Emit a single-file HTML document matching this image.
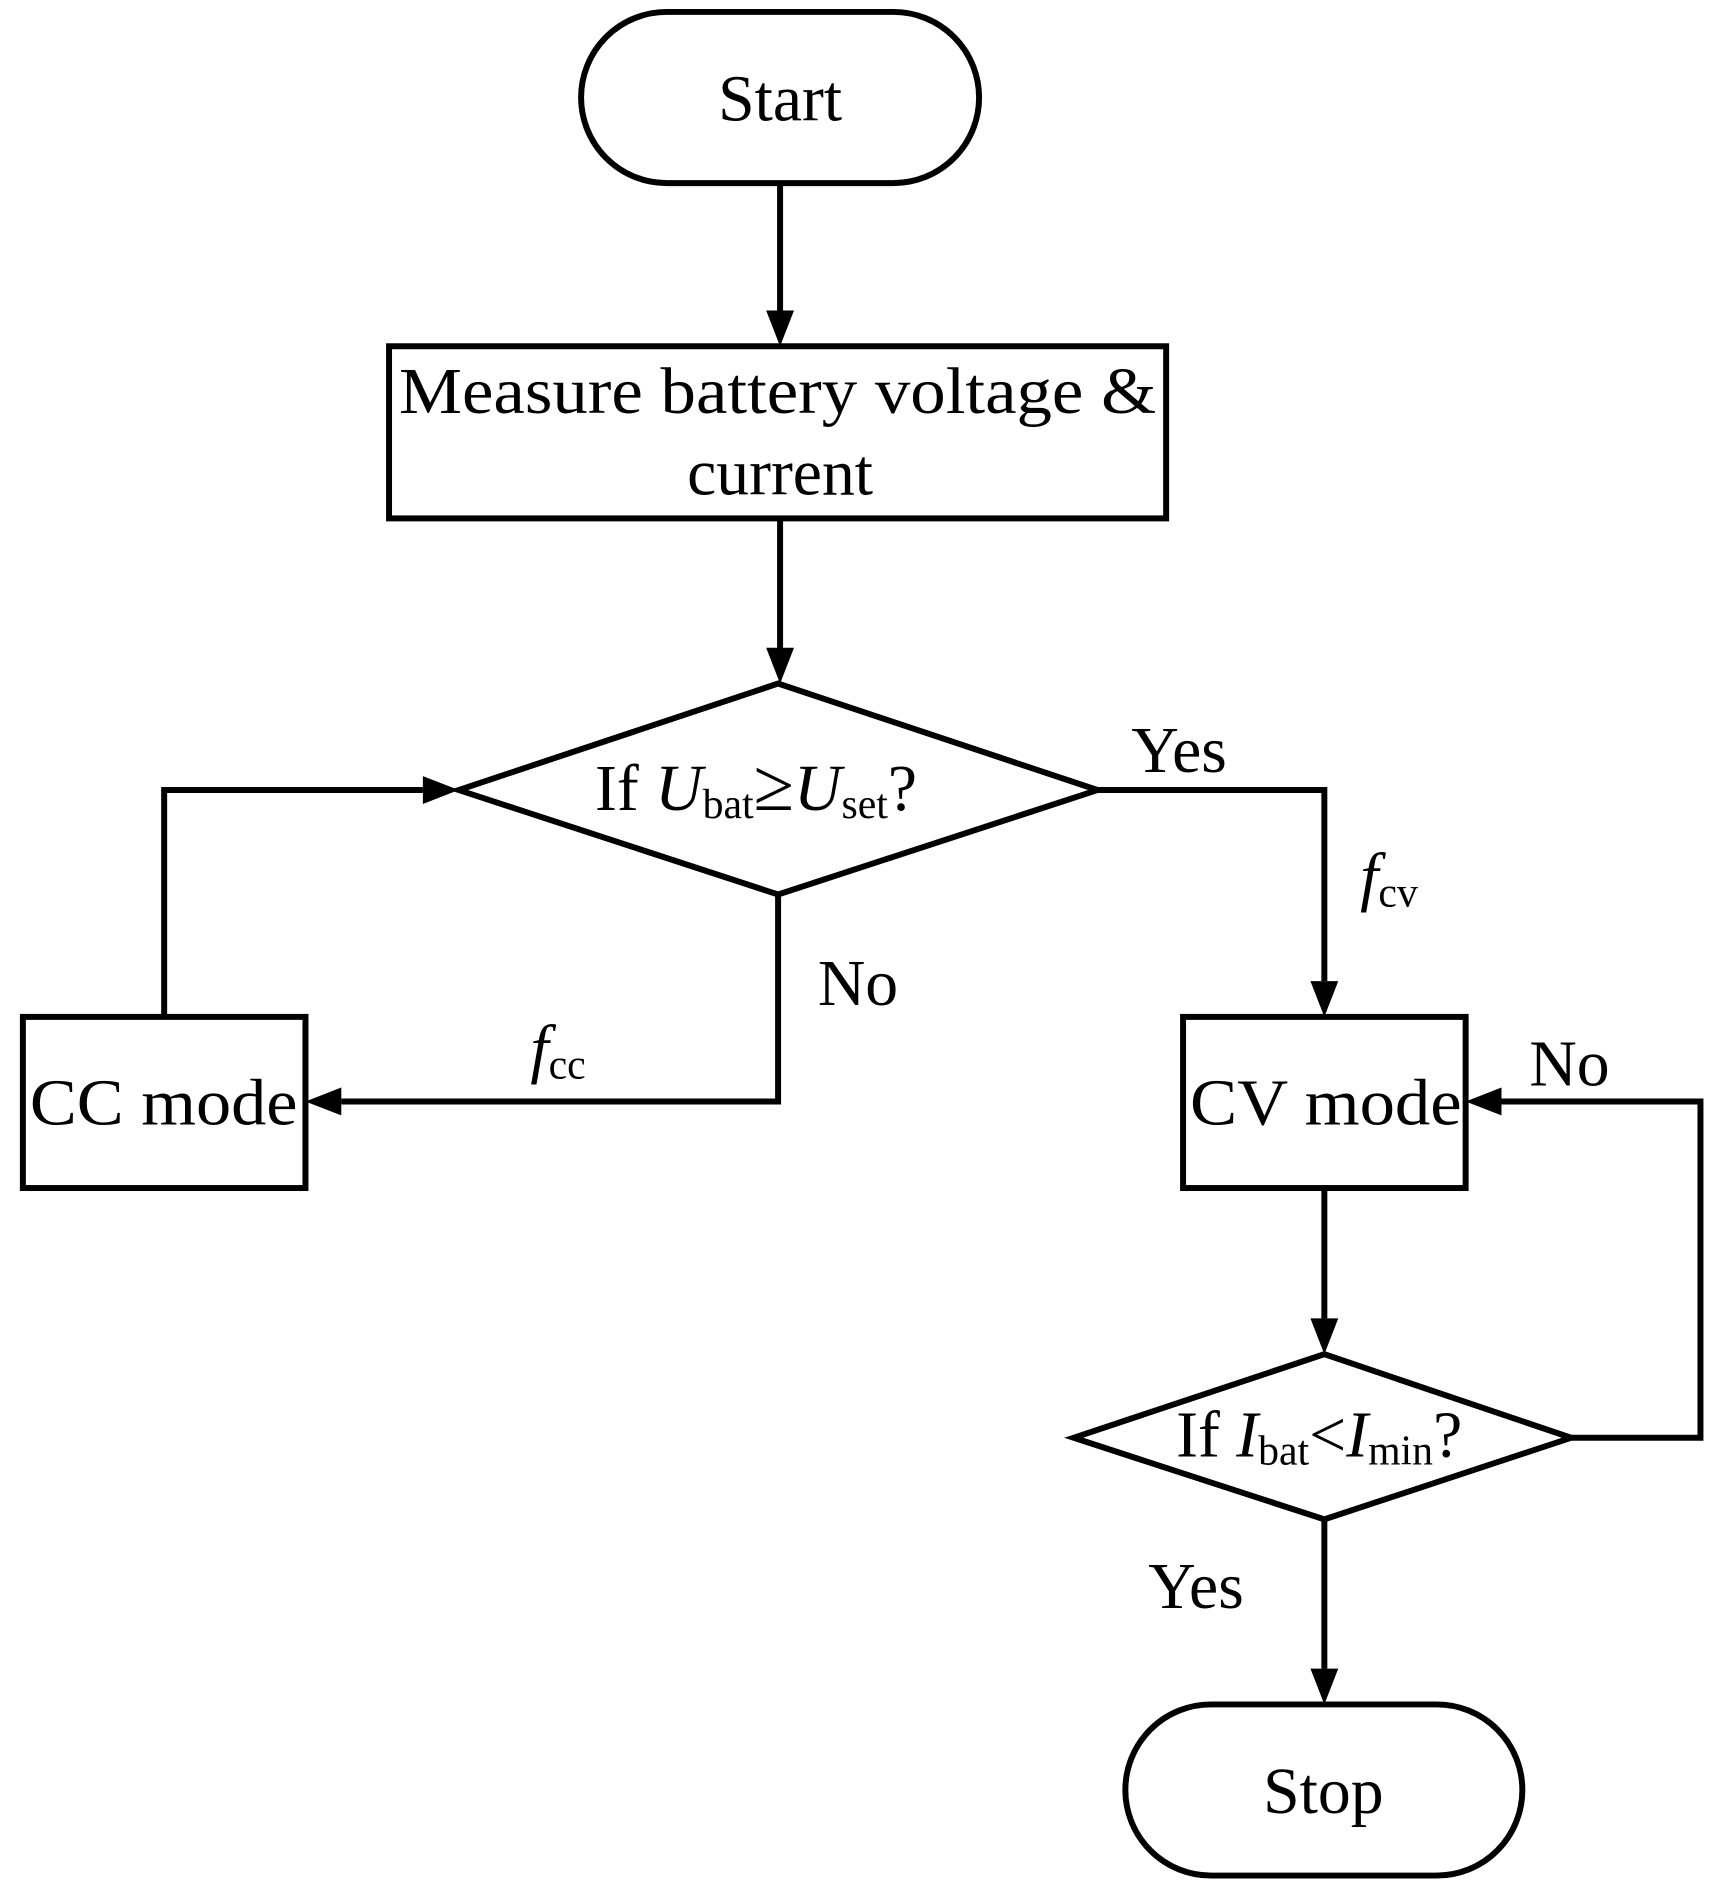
<!DOCTYPE html>
<html><head><style>html,body{margin:0;padding:0;background:#fff}svg{display:block}</style></head><body>
<svg width="1721" height="1892" viewBox="0 0 1721 1892" xmlns="http://www.w3.org/2000/svg" font-family="'Liberation Serif', serif" font-size="66" fill="#000">
<g transform="scale(0.995)">
<g stroke="#000" stroke-width="6" fill="none">
<rect x="584" y="12" width="400" height="172" rx="86"/>
<rect x="391" y="348" width="781" height="173"/>
<polygon points="461,794 782,687 1103,794 782,899"/>
<rect x="23" y="1022" width="284" height="172"/>
<rect x="1189" y="1022" width="284" height="172"/>
<polygon points="1079,1445 1331,1361 1579,1445 1331,1527"/>
<rect x="1131" y="1713" width="399" height="172" rx="86"/>
<polyline points="784,184 784,320"/>
<polyline points="784,521 784,655"/>
<polyline points="165,1022 165,794 425,794"/>
<polyline points="782,899 782,1107 343,1107"/>
<polyline points="1103,794 1331,794 1331,986"/>
<polyline points="1331,1194 1331,1325"/>
<polyline points="1579,1445 1709,1445 1709,1107 1509,1107"/>
<polyline points="1331,1527 1331,1677"/>
</g>
<g stroke="none">
<polygon points="770,312 798,312 784,348"/>
<polygon points="770,651 798,651 784,687"/>
<polygon points="425,780 425,808 461,794"/>
<polygon points="343,1093 343,1121 307,1107"/>
<polygon points="1317,986 1345,986 1331,1022"/>
<polygon points="1317,1325 1345,1325 1331,1361"/>
<polygon points="1509,1093 1509,1121 1473,1107"/>
<polygon points="1317,1677 1345,1677 1331,1713"/>
</g>
<text x="784" y="121" text-anchor="middle">Start</text>
<text x="401" y="415" textLength="761" lengthAdjust="spacingAndGlyphs">Measure battery voltage &amp;</text>
<text x="784" y="497" text-anchor="middle">current</text>
<text x="598" y="814">If  <tspan font-style="italic">U</tspan><tspan font-size="42" dy="8">bat</tspan><tspan dy="-8" font-size="74">≥</tspan><tspan font-style="italic">U</tspan><tspan font-size="42" dy="8">set</tspan><tspan dy="-8">?</tspan></text>
<text x="1137" y="776">Yes</text>
<text x="1367" y="903"><tspan font-style="italic">f</tspan><tspan font-size="42" dy="8">cv</tspan></text>
<text x="822" y="1010">No</text>
<text x="533" y="1076"><tspan font-style="italic">f</tspan><tspan font-size="42" dy="8">cc</tspan></text>
<text x="30" y="1130" textLength="269" lengthAdjust="spacingAndGlyphs">CC mode</text>
<text x="1196" y="1130" textLength="273" lengthAdjust="spacingAndGlyphs">CV mode</text>
<text x="1537" y="1091">No</text>
<text x="1182" y="1464">If <tspan font-style="italic">I</tspan><tspan font-size="42" dy="8">bat</tspan><tspan dy="-8">&lt;</tspan><tspan font-style="italic">I</tspan><tspan font-size="42" dy="8">min</tspan><tspan dy="-8">?</tspan></text>
<text x="1154" y="1616">Yes</text>
<text x="1330" y="1822" text-anchor="middle">Stop</text>
</g>
</svg>
</body></html>
